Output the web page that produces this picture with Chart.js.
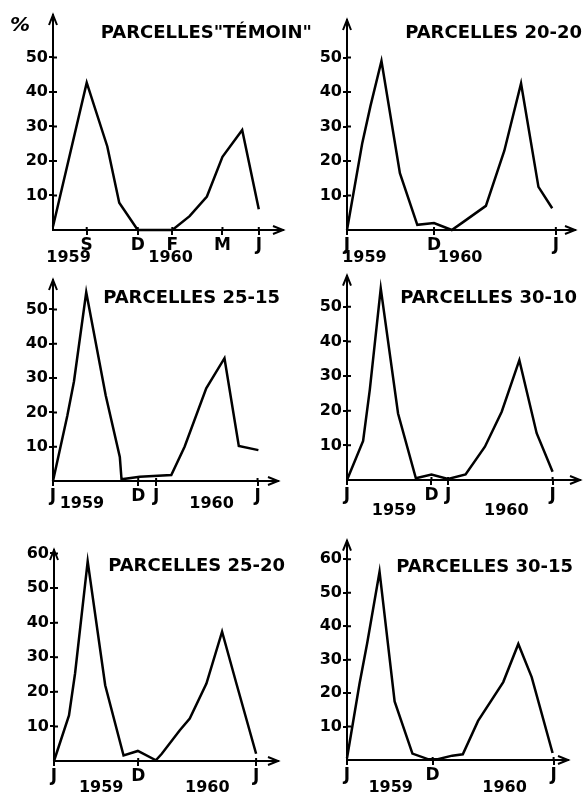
<!DOCTYPE html>
<html>
<head>
<meta charset="utf-8">
<script src="https://cdn.jsdelivr.net/npm/chart.js@4.4.0/dist/chart.umd.min.js"></script>
<style>
html, body { margin: 0; padding: 0; background: #fff; }
#page { position: relative; width: 583px; height: 796px; overflow: hidden; }
#page canvas { position: absolute; }
</style>
</head>
<body>
<div id="page"></div>
<script>
// x = months counted from July 1959 (the first "J"), y = %

var temoinMonths = [0, 1.95, 3.14, 3.83, 4.9, 6.9, 7.9, 8.9, 9.8, 10.94, 11.9];
var temoinPct    = [1, 42.7, 24.2, 7.9, 0, 0, 4, 9.7, 21.2, 29, 6];
var temoinTicks  = [1.95, 4.9, 6.9, 9.8, 11.9];
var temoinTickLabels = ['S', 'D', 'F', 'M', 'J'];

var months2020 = [0, 0.87, 1.35, 1.98, 3.04, 4.04, 5, 6.02, 6.73, 7.98, 9.04, 10, 11, 11.79];
var pct2020    = [0, 25, 36, 49, 16.5, 1.5, 2, 0, 2.5, 7, 23, 42.5, 12.5, 6.3];
var ticks2020  = [0, 5, 12];
var tickLabels2020 = ['J', 'D', 'J'];

var months2515 = [0, 0.84, 1.23, 1.95, 3.09, 3.92, 4.02, 5.09, 6.94, 7.72, 8.99, 10.06, 10.9, 12.05];
var pct2515    = [0, 19, 29, 55, 25, 7, 0.5, 1.25, 1.75, 10, 27, 35.8, 10.2, 9];
var ticks2515  = [0, 5, 6.05, 12];
var tickLabels2515 = ['J', 'D', 'J', 'J'];

var months3010 = [0, 0.94, 1.33, 1.97, 2.98, 4.02, 4.93, 5.9, 6.92, 8.05, 9.03, 10.06, 11.07, 12];
var pct3010    = [0, 11.3, 26, 55.3, 19.2, 0.5, 1.6, 0.3, 1.6, 9.6, 19.7, 34.6, 13.5, 2.4];
var ticks3010  = [0, 4.93, 5.9, 12];
var tickLabels3010 = ['J', 'D', 'J', 'J'];

var months2520 = [0, 0.89, 1.25, 2.0, 3.04, 4.13, 4.98, 6.05, 6.4, 7.47, 8.06, 9.05, 9.98, 10.83, 12];
var pct2520    = [0, 13.2, 25.3, 57.7, 21.9, 1.6, 2.9, 0.2, 2.1, 8.9, 12.3, 22.4, 37.4, 22.4, 2.1];
var ticks2520  = [0, 5, 12];
var tickLabels2520 = ['J', 'D', 'J'];

var months3015 = [0, 0.73, 1.18, 1.9, 2.78, 3.82, 4.76, 5.3, 6.14, 6.76, 7.65, 9.12, 10, 10.78, 12];
var pct3015    = [0.5, 22.8, 35, 56.3, 17.5, 1.9, 0.2, 0.2, 1.3, 1.7, 11.7, 23.3, 34.7, 24.8, 2.1];
var ticks3015  = [0, 5, 12.06];
var tickLabels3015 = ['J', 'D', 'J'];

var pctTicks50 = [10, 20, 30, 40, 50];
var pctTicks60 = [10, 20, 30, 40, 50, 60];

var FONT = '"DejaVu Sans", sans-serif';

// arrows, title, years, inner half of tick marks; drawn on top of the library axes
var decor = {
	id: 'decor',
	afterDraw: function(chart, args, o) {
		var ctx = chart.ctx, a = chart.chartArea, xs = chart.scales.x, ys = chart.scales.y;
		ctx.save();
		ctx.strokeStyle = '#000';
		ctx.lineWidth = 2;
		ctx.beginPath();
		ctx.moveTo(a.left - 4, a.top + 10); ctx.lineTo(a.left, a.top); ctx.lineTo(a.left + 4, a.top + 10);
		ctx.moveTo(a.right - 10, a.bottom - 4); ctx.lineTo(a.right, a.bottom); ctx.lineTo(a.right - 10, a.bottom + 4);
		ys.ticks.forEach(function(t) {
			var py = ys.getPixelForValue(t.value);
			ctx.moveTo(a.left, py); ctx.lineTo(a.left + 4, py);
		});
		xs.ticks.forEach(function(t) {
			var px = xs.getPixelForValue(t.value);
			ctx.moveTo(px, a.bottom); ctx.lineTo(px, a.bottom - 3);
		});
		ctx.stroke();

		ctx.fillStyle = '#000';
		ctx.textBaseline = 'middle';
		ctx.font = 'bold 18px ' + FONT;
		ctx.textAlign = 'right';
		ctx.fillText(o.title, o.titleX, o.titleY);

		ctx.font = 'bold 16px ' + FONT;
		ctx.textAlign = 'center';
		o.years.forEach(function(y) {
			ctx.fillText(y[0], xs.getPixelForValue(y[1]), a.bottom + o.yearDy);
		});

		if (o.percent) {
			ctx.font = 'italic bold 20px ' + FONT;
			ctx.fillText('%', 20, 26);
		}
		ctx.restore();
	}
};

var panels = [
	{ months: temoinMonths, pct: temoinPct, ticks: temoinTicks, tickLabels: temoinTickLabels, yTicks: pctTicks50,
	  left: 0, top: 0, w: 320, h: 265, yAxisW: 53, xAxisH: 35, padTop: 15, padRight: 37, xMax: 13.3, yMax: 62.3,
	  title: 'PARCELLES"TÉMOIN"', titleX: 312, titleY: 33, yearDy: 28, years: [['1959', 0.9], ['1960', 6.8]], percent: true },
	{ months: months2020, pct: pct2020, ticks: ticks2020, tickLabels: tickLabels2020, yTicks: pctTicks50,
	  left: 291, top: 0, w: 292, h: 265, yAxisW: 56, xAxisH: 35, padTop: 20, padRight: 8, xMax: 13.1, yMax: 60.9,
	  title: 'PARCELLES 20-20', titleX: 291, titleY: 33, yearDy: 28, years: [['1959', 1.0], ['1960', 6.5]] },
	{ months: months2515, pct: pct2515, ticks: ticks2515, tickLabels: tickLabels2515, yTicks: pctTicks50,
	  left: 0, top: 265, w: 320, h: 265, yAxisW: 53, xAxisH: 49, padTop: 15, padRight: 42, xMax: 13.2, yMax: 58.6,
	  title: 'PARCELLES 25-15', titleX: 280, titleY: 33, yearDy: 23, years: [['1959', 1.7], ['1960', 9.3]] },
	{ months: months3010, pct: pct3010, ticks: ticks3010, tickLabels: tickLabels3010, yTicks: pctTicks50,
	  left: 291, top: 265, w: 292, h: 265, yAxisW: 56, xAxisH: 50, padTop: 10, padRight: 3, xMax: 13.6, yMax: 59,
	  title: 'PARCELLES 30-10', titleX: 286, titleY: 33, yearDy: 31, years: [['1959', 2.75], ['1960', 9.3]] },
	{ months: months2520, pct: pct2520, ticks: ticks2520, tickLabels: tickLabels2520, yTicks: pctTicks60,
	  left: 0, top: 530, w: 320, h: 266, yAxisW: 54, xAxisH: 35, padTop: 20, padRight: 42, xMax: 13.3, yMax: 61,
	  title: 'PARCELLES 25-20', titleX: 285, titleY: 36, yearDy: 27, years: [['1959', 2.8], ['1960', 9.1]] },
	{ months: months3015, pct: pct3015, ticks: ticks3015, tickLabels: tickLabels3015, yTicks: pctTicks60,
	  left: 291, top: 530, w: 292, h: 266, yAxisW: 56, xAxisH: 36, padTop: 5, padRight: 15, xMax: 12.9, yMax: 65.6,
	  title: 'PARCELLES 30-15', titleX: 282, titleY: 37, yearDy: 28, years: [['1959', 2.55], ['1960', 9.2]] }
];

var page = document.getElementById('page');

panels.forEach(function(p) {
	var cv = document.createElement('canvas');
	cv.width = p.w; cv.height = p.h;
	cv.style.left = p.left + 'px'; cv.style.top = p.top + 'px';
	cv.style.width = p.w + 'px'; cv.style.height = p.h + 'px';
	page.appendChild(cv);

	new Chart(cv, {
		type: 'line',
		data: {
			datasets: [{
				data: p.months.map(function(m, i) { return { x: m, y: p.pct[i] }; }),
				borderColor: '#000', borderWidth: 2.5, pointRadius: 0, tension: 0, fill: false, clip: false
			}]
		},
		options: {
			responsive: false, animation: false, events: [],
			layout: { padding: { top: p.padTop, right: p.padRight, left: 0, bottom: 0 } },
			plugins: {
				legend: { display: false }, tooltip: { enabled: false },
				decor: { title: p.title, titleX: p.titleX, titleY: p.titleY, yearDy: p.yearDy, years: p.years, percent: !!p.percent }
			},
			scales: {
				x: {
					type: 'linear', min: 0, max: p.xMax,
					afterBuildTicks: function(s) { s.ticks = p.ticks.map(function(v) { return { value: v }; }); },
					afterFit: function(s) { s.height = p.xAxisH; },
					ticks: { callback: function(v, i) { return p.tickLabels[i]; }, color: '#000', padding: 0,
						maxRotation: 0, autoSkip: false, font: { family: FONT, weight: 'bold', size: 17 } },
					grid: { drawOnChartArea: false, tickLength: 5, color: '#000', lineWidth: 2 },
					border: { color: '#000', width: 2 }
				},
				y: {
					min: 0, max: p.yMax,
					afterBuildTicks: function(s) { s.ticks = p.yTicks.map(function(v) { return { value: v }; }); },
					afterFit: function(s) { s.width = p.yAxisW; },
					ticks: { color: '#000', padding: 1, font: { family: FONT, weight: 'bold', size: 16 } },
					grid: { drawOnChartArea: false, tickLength: 4, color: '#000', lineWidth: 2 },
					border: { color: '#000', width: 2 }
				}
			}
		},
		plugins: [decor]
	});
});
</script>
</body>
</html>
